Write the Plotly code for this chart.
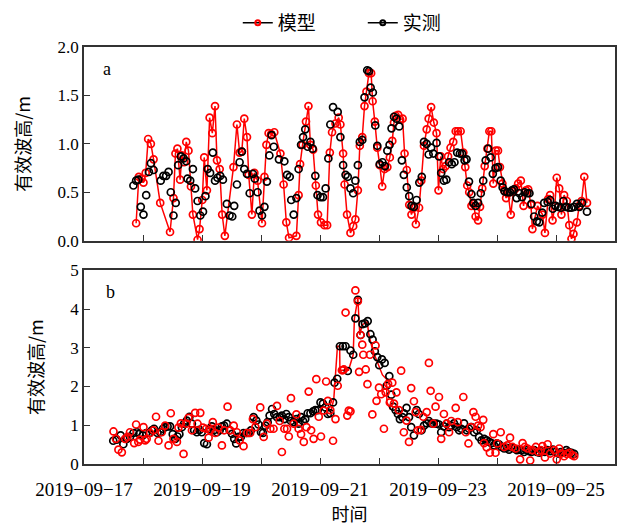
import pandas as pd
import plotly.graph_objects as go
from plotly.subplots import make_subplots

T0 = pd.Timestamp("2019-09-17")

# ---- panel a: hours since 2019-09-17 00:00 and significant wave height (m) ----
a_model_h = [21.2, 22.3, 23.4, 24.2, 25.1, 26.1, 27.2, 28.3, 31.0, 35.0, 36.4, 37.2, 38.0, 39.1, 39.8,
             40.7, 41.6, 42.5, 43.5, 44.3, 46.2, 47.0, 48.1, 48.9, 50.0, 51.1, 52.2, 53.3, 54.1, 55.2,
             56.2, 57.3, 60.8, 62.2, 63.3, 64.2, 65.2, 66.3, 67.0, 68.3, 69.3, 70.6, 72.4, 73.4, 74.2,
             75.1, 76.1, 77.4, 79.9, 81.2, 82.3, 83.4, 86.4, 87.3, 87.9, 88.9, 90.3, 91.3, 92.1, 93.2,
             94.3, 95.2, 96.4, 97.8, 98.9, 100.0, 100.9, 102.3, 103.6, 104.3, 105.4, 106.0, 107.0, 108.4,
             109.5, 110.4, 111.4, 112.2, 113.2, 114.1, 114.9, 115.9, 116.8, 117.4, 118.3, 119.3, 120.3,
             121.3, 122.3, 123.4, 124.4, 125.4, 126.1, 126.8, 127.8, 128.6, 129.6, 130.4, 131.3, 132.3,
             133.2, 134.2, 135.0, 136.3, 137.2, 138.3, 139.4, 140.2, 141.2, 142.3, 143.4, 144.2, 145.1,
             146.1, 147.1, 148.1, 149.1, 150.2, 151.2, 152.1, 153.2, 154.3, 155.1, 155.9, 156.7, 157.6,
             158.4, 159.3, 160.3, 161.1, 162.0, 163.0, 164.1, 164.9, 165.7, 166.5, 167.5, 168.4, 169.2,
             170.2, 170.9, 171.7, 172.5, 173.6, 174.7, 175.6, 176.6, 177.7, 178.8, 179.8, 180.7, 181.8,
             182.4, 184.5, 186.5, 187.5, 188.8, 189.6, 190.6, 191.5, 192.3, 193.3, 194.2, 195.3, 196.4,
             197.4, 198.3, 199.1, 200.5, 201.4, 202.4, 203.5, 204.6]
a_model_v = [0.18, 0.66, 0.64, 0.60, 0.70, 1.05, 1.00, 0.84, 0.39, 0.09, 0.44, 0.90, 0.95, 0.63, 0.88,
             0.81, 1.02, 0.93, 0.56, 0.27, 0.01, 0.12, 0.42, 0.86, 0.52, 1.27, 1.11, 1.39, 0.83, 0.74,
             0.27, 0.05, 0.76, 1.20, 0.91, 0.92, 1.26, 1.07, 0.68, 0.27, 0.70, 0.62, 0.18, 0.66, 0.99,
             1.11, 1.10, 1.12, 0.90, 0.58, 0.19, 0.03, 0.05, 0.47, 0.79, 0.99, 1.23, 1.39, 0.99, 0.94,
             0.57, 0.27, 0.19, 0.16, 0.16, 0.91, 1.12, 1.21, 1.27, 1.20, 0.90, 0.58, 0.27, 0.08,
             0.15, 0.22, 0.52, 0.98, 1.07, 1.39, 1.54, 1.73, 1.73, 1.44, 1.23, 0.96, 0.78,
             0.56, 0.74, 0.76, 0.86, 1.03, 1.22, 1.29, 1.30, 1.25, 1.26, 0.90, 0.73, 0.37,
             0.27, 0.34, 0.17, 0.34, 0.62, 0.98, 1.15, 1.26, 1.38, 1.22, 1.11, 0.52, 0.87,
             0.74, 0.77, 0.87, 0.96, 1.02, 1.13, 1.13, 1.13, 0.91, 0.76, 0.57, 0.50, 0.36,
             0.38, 0.25, 0.21, 0.35, 0.54, 0.77, 0.95, 1.13, 1.13, 0.59, 0.93, 0.93, 0.76,
             0.59, 0.52, 0.44, 0.49, 0.27, 0.51, 0.54, 0.59, 0.62, 0.36, 0.52, 0.53, 0.37,
             0.12, 0.36, 0.27, 0.08, 0.43, 0.47, 0.21, 0.36, 0.65, 0.54, 0.27, 0.47, 0.41,
             0.16, 0.02, 0.07, 0.19, 0.36, 0.41, 0.66, 0.39]

a_obs_h = [20.1, 21.2, 22.1, 23.1, 24.2, 25.3, 26.4, 27.2, 28.3, 31.2, 32.3, 33.4, 34.4, 35.3, 36.4,
           37.3, 38.3, 39.4, 40.5, 41.6, 42.1, 43.2, 44.3, 45.2, 46.2, 47.3, 48.4, 49.4, 50.3, 51.3,
           52.4, 53.3, 54.3, 55.4, 56.5, 58.1, 59.2, 60.3, 61.1, 62.2, 63.3, 64.2, 65.2, 66.3, 67.4,
           68.7, 69.5, 70.6, 71.4, 72.4, 73.4, 74.4, 75.4, 76.3, 77.2, 79.3, 81.5, 82.6, 83.7, 84.3,
           85.3, 86.4, 87.3, 88.3, 89.1, 90.0, 91.0, 92.1, 93.0, 94.1, 95.0, 96.2, 97.2, 98.3, 99.4,
           100.2, 101.3, 103.2, 104.3, 105.4, 106.4, 107.3, 108.4, 109.5, 110.4, 111.4, 112.2, 113.2,
           114.1, 115.2, 115.9, 116.6, 117.5, 118.5, 119.3, 120.3, 121.4, 122.4, 123.4, 124.3, 125.1,
           126.1, 127.1, 128.2, 129.3, 130.1, 131.3, 132.3, 133.2, 134.2, 135.3, 136.4, 137.4, 138.3,
           139.4, 140.2, 141.2, 142.1, 143.4, 144.4, 145.3, 146.4, 147.4, 148.5, 149.6, 150.7, 151.8,
           152.9, 153.8, 154.8, 155.6, 156.6, 157.6, 158.4, 159.3, 160.3, 161.4, 162.4, 163.4, 164.4,
           165.4, 166.3, 167.4, 168.4, 169.5, 170.3, 171.1, 172.2, 173.3, 174.1, 174.9, 176.0, 177.1,
           178.2, 179.3, 180.4, 181.2, 182.0, 183.1, 184.2, 185.2, 186.4, 187.2, 188.6, 189.6, 190.7,
           191.8, 192.9, 194.0, 195.0, 196.1, 197.2, 198.3, 199.4, 200.5, 201.5, 202.6, 204.6]
a_obs_v = [0.57, 0.62, 0.63, 0.35, 0.27, 0.47, 0.71, 0.80, 0.73, 0.62, 0.67, 0.67, 0.71, 0.50, 0.26,
           0.39, 0.78, 0.87, 0.85, 0.82, 0.64, 0.62, 0.74, 0.54, 0.41, 0.26, 0.30, 0.46, 0.74, 0.70,
           0.91, 0.62, 0.65, 0.67, 0.63, 0.38, 0.26, 0.25, 0.36, 0.58, 0.81, 0.92, 0.74, 0.69, 0.49,
           0.69, 0.64, 0.50, 0.31, 0.26, 0.35, 0.61, 0.88, 1.09, 0.97, 0.84, 0.82, 0.68, 0.66, 0.42,
           0.27, 0.44, 0.74, 0.99, 1.07, 1.15, 0.97, 1.02, 0.95, 0.67, 0.47, 0.45, 0.45, 0.54, 0.85,
           1.20, 1.38, 1.33, 1.07, 0.78, 0.68, 0.66, 0.54, 0.49, 0.62, 0.78, 1.02, 1.04,
           1.48, 1.76, 1.75, 1.58, 1.53, 1.19, 0.98, 0.79, 0.81, 0.77, 0.93, 0.99, 1.16,
           1.28, 1.26, 1.18, 0.83, 0.68, 0.55, 0.46, 0.36, 0.35, 0.42, 0.60, 0.66, 1.02,
           1.00, 0.89, 0.96, 0.90, 1.01, 0.87, 0.70, 0.62, 0.63, 0.81, 0.79, 0.81, 0.91,
           0.90, 0.90, 0.83, 0.84, 0.61, 0.48, 0.39, 0.36, 0.39, 0.49, 0.62, 0.83, 0.95,
           0.86, 0.69, 0.75, 0.76, 0.62, 0.55, 0.51, 0.50, 0.50, 0.52, 0.53, 0.44, 0.49,
           0.45, 0.50, 0.49, 0.49, 0.38, 0.25, 0.20, 0.19, 0.29, 0.39, 0.40, 0.42, 0.33,
           0.36, 0.35, 0.34, 0.41, 0.35, 0.34, 0.34, 0.35, 0.38, 0.35, 0.39, 0.30]

# ---- panel b ----
b_obs_h = [11.9, 13.3, 14.9, 16.0, 17.4, 18.7, 20.1, 21.5, 22.5, 23.9, 25.3, 26.6, 27.6, 28.5, 29.9,
           31.0, 32.1, 33.0, 34.0, 35.0, 36.1, 37.1, 38.0, 38.8, 39.8, 40.7, 41.8, 42.9, 43.9, 44.8,
           45.9, 47.0, 47.9, 48.9, 50.0, 51.1, 52.0, 53.0, 54.1, 55.2, 56.1, 57.0, 58.1, 59.2, 60.2,
           61.1, 61.9, 62.9, 63.8, 64.9, 66.0, 67.0, 67.9, 69.0, 70.1, 71.0, 72.0, 72.8, 73.8, 74.7,
           75.5, 76.5, 77.4, 78.5, 79.6, 80.5, 81.5, 82.3, 83.3, 84.2, 85.3, 86.4, 87.3, 88.3, 89.1,
           90.0, 91.0, 92.1, 93.2, 94.1, 95.1, 96.2, 97.2, 98.2, 99.2, 100.2, 101.3, 101.9, 103.0,
           104.1, 105.3, 106.4, 107.3, 108.4, 109.5, 110.4, 111.4, 112.5, 113.3, 114.3, 115.4, 116.5,
           117.4, 118.3, 119.3, 120.1, 121.2, 122.3, 123.1, 124.2, 125.0, 125.8, 126.8, 127.7, 128.5,
           129.5, 130.1, 131.2, 132.2, 133.1, 134.2, 135.3, 136.2, 137.3, 138.3, 139.4, 140.3, 141.3,
           142.3, 143.4, 144.4, 145.3, 146.4, 147.5, 148.5, 149.4, 150.5, 151.6, 152.6, 153.5, 154.6,
           155.7, 156.6, 157.6, 158.7, 159.8, 160.7, 161.7, 162.8, 163.8, 164.8, 165.7, 166.8, 167.9,
           168.8, 169.8, 170.9, 172.0, 172.9, 173.9, 175.0, 176.1, 177.0, 178.0, 179.0, 180.1, 181.1,
           182.0, 183.1, 184.2, 185.2, 186.3, 187.4, 188.5, 189.6, 190.7, 191.8, 192.9, 194.0, 195.1,
           196.2, 197.2, 198.3, 199.4]
b_obs_v = [0.60, 0.63, 0.74, 0.51, 0.65, 0.70, 0.80, 0.82, 0.78, 0.74, 0.80, 0.80, 0.87, 0.91, 0.80,
           0.82, 0.91, 0.95, 0.97, 0.97, 0.77, 0.65, 0.71, 0.77, 0.95, 1.04, 1.12, 1.22, 1.04, 0.87,
           0.82, 0.88, 0.82, 0.54, 0.51, 0.91, 0.97, 0.88, 0.82, 0.87, 0.97, 0.99, 1.04, 0.87, 0.78,
           0.65, 0.53, 0.70, 0.70, 0.80, 0.80, 0.80, 0.87, 1.21, 1.12, 1.02, 0.82, 0.80, 0.99, 1.08,
           1.25, 1.42, 1.29, 1.21, 1.21, 1.25, 1.16, 1.29, 1.21, 1.11, 1.08, 1.16, 1.04, 1.21, 1.11,
           1.16, 1.31, 1.31, 1.36, 1.39, 1.39, 1.59, 1.56, 1.46, 1.29, 1.31, 1.59, 2.10, 2.20,
           3.04, 3.04, 3.04, 2.40, 2.93, 2.82, 3.76, 4.24, 3.33, 3.61, 3.63, 3.69, 3.35,
           3.21, 2.91, 2.76, 2.55, 2.70, 2.61, 2.02, 2.27, 1.79, 1.48, 1.39, 1.29, 1.16,
           1.21, 1.31, 1.45, 1.21, 0.95, 0.74, 1.39, 1.29, 0.87, 0.99, 1.05, 1.11, 1.05,
           1.04, 1.04, 1.02, 0.82, 0.97, 1.04, 0.95, 0.99, 1.05, 0.95, 0.87, 0.91, 1.05,
           0.87, 0.91, 0.95, 0.82, 0.87, 0.70, 0.61, 0.65, 0.61, 0.57, 0.54, 0.48, 0.53,
           0.51, 0.44, 0.40, 0.42, 0.37, 0.43, 0.40, 0.36, 0.37, 0.36, 0.31, 0.36, 0.33,
           0.31, 0.36, 0.31, 0.29, 0.33, 0.31, 0.36, 0.33, 0.37, 0.31, 0.27, 0.31, 0.29,
           0.36, 0.31, 0.29, 0.26]

b_model_h = [12.0, 13.0, 14.0, 15.4, 16.7, 17.7, 18.7, 20.4, 21.2, 22.1, 22.8, 24.2, 24.9, 25.5, 26.9,
             28.3, 29.3, 30.3, 31.6, 33.0, 34.4, 35.3, 36.4, 37.8, 38.4, 39.4, 40.5, 41.6, 42.5, 43.9,
             45.2, 46.2, 47.3, 48.4, 49.7, 50.7, 51.4, 52.4, 53.4, 54.7, 56.1, 57.0, 58.4, 59.5, 60.9,
             62.2, 63.3, 64.9, 66.3, 67.6, 68.7, 69.7, 71.7, 73.1, 74.4, 75.8, 77.1, 78.5, 79.6, 80.5,
             81.5, 82.6, 83.3, 84.2, 85.3, 86.4, 87.3, 88.3, 89.4, 90.5, 91.4, 92.4, 93.4, 94.5, 95.5,
             96.4, 97.5, 98.5, 99.2, 100.2, 101.3, 102.3, 103.2, 104.9, 105.3, 105.7, 106.4, 107.1,
             107.7, 108.4, 110.4, 111.4, 111.9, 112.5, 113.2, 113.6, 114.6, 115.3, 116.3, 117.3, 118.6,
             119.0, 120.0, 120.9, 122.0, 122.7, 123.7, 124.4, 125.4, 126.1, 127.1, 128.1, 129.0, 130.1,
             131.2, 132.2, 133.1, 134.2, 134.9, 135.8, 136.9, 138.0, 139.4, 140.3, 141.0, 142.1, 143.0,
             144.4, 145.3, 146.4, 147.5, 148.5, 149.4, 151.2, 152.1, 154.3, 155.3, 156.4, 157.3, 158.4,
             159.3, 160.3, 161.3, 162.4, 162.7, 163.8, 165.1, 166.5, 167.4, 168.1, 169.5, 170.9, 172.2,
             173.3, 174.3, 175.6, 177.4, 178.4, 179.3, 180.4, 181.5, 182.4, 183.8, 184.8, 185.8, 186.5,
             187.5, 188.6, 189.6, 191.3, 192.3, 193.3, 194.2, 195.3, 196.4, 197.5, 198.6, 199.4]
b_model_v = [0.84, 0.65, 0.37, 0.30, 0.65, 0.70, 0.82, 0.54, 1.02, 0.57, 0.63, 0.95, 0.61, 0.65, 0.80,
             0.87, 1.22, 0.60, 0.82, 0.99, 0.48, 1.31, 0.65, 0.57, 0.94, 1.05, 0.26, 1.04, 1.19, 0.87,
             1.32, 1.04, 1.32, 0.94, 0.91, 0.68, 0.87, 1.08, 0.80, 0.94, 0.48, 0.87, 1.48, 0.87, 0.99,
             0.82, 0.61, 0.46, 0.80, 0.80, 1.16, 0.95, 1.46, 0.70, 1.04, 0.91, 0.91, 1.50, 1.11, 0.31,
             0.91, 0.91, 0.71, 1.70, 1.04, 1.28, 0.91, 0.77, 0.57, 0.95, 1.87, 0.87, 0.65, 2.19, 1.22,
             0.71, 1.38, 2.13, 1.63, 1.39, 0.60, 1.16, 2.02, 2.42, 2.42, 2.44, 3.91, 1.25,
             1.38, 1.36, 4.48, 4.20, 2.38, 3.33, 3.08, 2.82, 2.44, 2.06, 2.82, 1.28, 3.06,
             1.63, 1.97, 1.80, 0.91, 1.85, 2.07, 1.59, 2.10, 1.56, 1.85, 1.39, 2.41, 0.82,
             1.12, 0.57, 1.96, 1.62, 1.34, 0.87, 0.88, 1.22, 1.34, 2.61, 1.89, 1.04, 1.48,
             1.73, 0.65, 1.29, 1.04, 0.82, 1.11, 1.45, 1.08, 1.73, 0.82, 0.53, 0.95, 1.34,
             1.22, 0.99, 0.95, 1.14, 0.54, 0.43, 0.29, 0.77, 0.29, 0.53, 0.82, 0.44, 0.48,
             0.68, 0.44, 0.40, 0.12, 0.54, 0.44, 0.40, 0.09, 0.36, 0.44, 0.31, 0.36, 0.46,
             0.17, 0.51, 0.27, 0.36, 0.12, 0.40, 0.27, 0.20, 0.26, 0.29, 0.23, 0.20]

# continuous model run around the storm peak (drawn as a connected line)
b_run_h = [100.2, 101.6, 103.1, 104.0, 104.1, 107.6, 109.5, 110.0, 111.4, 112.2, 113.1, 115.2,
           115.9, 117.2, 118.6, 119.9, 121.4, 123.1, 123.2, 124.7]
b_run_v = [1.31, 1.67, 3.04, 3.04, 2.42, 2.42, 2.82, 3.76, 4.27, 3.33, 3.59, 3.67,
           3.33, 3.00, 2.75, 2.55, 2.30, 2.19, 1.60, 1.40]

date_ticks = ["2019-09-17", "2019-09-18", "2019-09-19", "2019-09-20", "2019-09-21",
              "2019-09-22", "2019-09-23", "2019-09-24", "2019-09-25"]
date_text = ["2019−09−17", "", "2019−09−19", "", "2019−09−21", "", "2019−09−23", "", "2019−09−25"]
a_yticks = [0.0, 0.5, 1.0, 1.5, 2.0]
b_yticks = [0, 1, 2, 3, 4, 5]


def to_time(hours):
    return T0 + pd.to_timedelta(hours, unit="h")


RED = "#ff0000"
BLACK = "#000000"
FONT = "Liberation Serif"
CJK = "Noto Sans CJK SC"

fig = make_subplots(rows=2, cols=1, shared_xaxes=False, vertical_spacing=0.071)

mk = dict(symbol="circle-open", size=7, line=dict(width=1.7))

# panel a
fig.add_trace(go.Scatter(x=to_time(a_model_h), y=a_model_v, mode="lines+markers",
                         line=dict(color=RED, width=1.5), marker=dict(color=RED, **mk),
                         showlegend=False), row=1, col=1)
fig.add_trace(go.Scatter(x=to_time(a_obs_h), y=a_obs_v, mode="markers",
                         marker=dict(color=BLACK, **mk), showlegend=False), row=1, col=1)

# panel b
fig.add_trace(go.Scatter(x=to_time(b_run_h), y=b_run_v, mode="lines",
                         line=dict(color=RED, width=1.5), showlegend=False), row=2, col=1)
fig.add_trace(go.Scatter(x=to_time(b_obs_h), y=b_obs_v, mode="markers",
                         marker=dict(color=BLACK, **mk), showlegend=False), row=2, col=1)
fig.add_trace(go.Scatter(x=to_time(b_model_h), y=b_model_v, mode="markers",
                         marker=dict(color=RED, **mk), showlegend=False), row=2, col=1)

# legend entries
leg_mk = dict(symbol="circle-open", size=5, line=dict(width=2))
fig.add_trace(go.Scatter(x=[None], y=[None], mode="lines+markers", name="模型",
                         line=dict(color=BLACK, width=1.5), marker=dict(color=RED, **leg_mk)),
              row=1, col=1)
fig.add_trace(go.Scatter(x=[None], y=[None], mode="lines+markers", name="实测",
                         line=dict(color=BLACK, width=1.5), marker=dict(color=BLACK, **leg_mk)),
              row=1, col=1)

xrange = ["2019-09-17 00:00", "2019-09-26 00:00"]
axis_common = dict(showline=True, linecolor="#333333", linewidth=1.5, mirror=True,
                   ticks="inside", ticklen=6, tickwidth=1.2, tickcolor="#333333",
                   showgrid=False, zeroline=False, automargin=False)
tick_font = dict(family=FONT, size=17, color=BLACK)

fig.update_xaxes(range=xrange, tickmode="array", tickvals=date_ticks, **axis_common)
fig.update_xaxes(ticktext=[""] * len(date_ticks), row=1, col=1)
fig.update_xaxes(ticktext=date_text, row=2, col=1, ticklabelstandoff=7,
                 tickfont=dict(family=FONT, size=19, color=BLACK),
                 title=dict(text="时间", font=dict(family=CJK, size=18, color=BLACK), standoff=16))

ytitle = dict(text="有效波高/m", font=dict(family=CJK, size=18, color=BLACK), standoff=22)
fig.update_yaxes(range=[0, 2.0], tickmode="array", tickvals=a_yticks, tickfont=tick_font,
                 ticktext=[f"{v:.1f}" for v in a_yticks], title=ytitle, row=1, col=1, **axis_common)
fig.update_yaxes(range=[0, 5], tickmode="array", tickvals=b_yticks, tickfont=tick_font,
                 ticktext=[str(v) for v in b_yticks], title=ytitle, row=2, col=1, **axis_common)

fig.add_annotation(x=0.043, y=0.948, xref="paper", yref="paper", text="a", showarrow=False,
                   xanchor="center", yanchor="middle",
                   font=dict(family=FONT, size=18, color=BLACK))
fig.add_annotation(x=0.049, y=0.412, xref="paper", yref="paper", text="b", showarrow=False,
                   xanchor="center", yanchor="middle",
                   font=dict(family=FONT, size=18, color=BLACK))

fig.update_layout(
    width=619, height=526,
    margin=dict(l=84, r=4, t=42, b=62),
    paper_bgcolor="white", plot_bgcolor="white",
    legend=dict(orientation="h", x=0.525, xanchor="center", y=1.058, yanchor="middle",
                font=dict(family=CJK, size=19, color=BLACK),
                entrywidth=80, entrywidthmode="pixels",
                bgcolor="rgba(0,0,0,0)"),
)

fig.write_html("out.html")
